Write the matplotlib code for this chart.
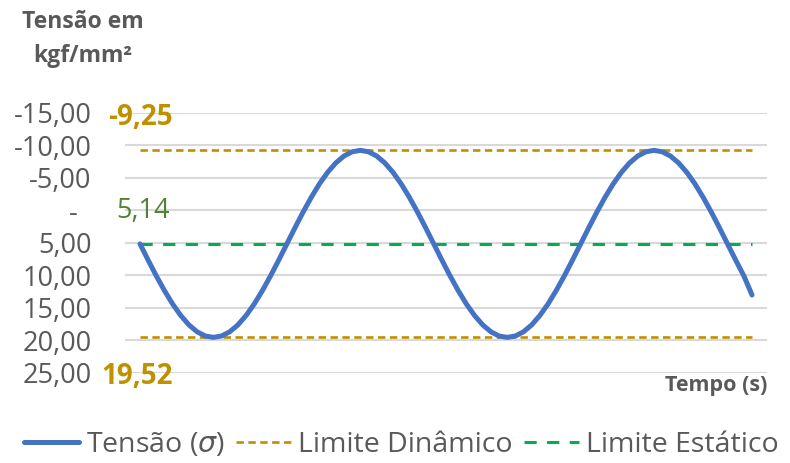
import numpy as np
import matplotlib.pyplot as plt

plt.rcParams['font.family'] = ['Open Sans', 'DejaVu Sans']

# stress over time (kgf/mm², positive values drawn downward)
tensao = [5.14, 7.64, 10.06, 12.33, 14.39, 16.16, 17.60, 18.66, 19.31, 19.52,
          19.31, 18.66, 17.60, 16.16, 14.39, 12.33, 10.06, 7.64, 5.14, 2.64,
          0.22, -2.05, -4.11, -5.88, -7.32, -8.38, -9.03, -9.25, -9.03, -8.38,
          -7.32, -5.88, -4.11, -2.05, 0.22, 2.64,
          5.14, 7.64, 10.06, 12.33, 14.39, 16.16, 17.60, 18.66, 19.31, 19.52,
          19.31, 18.66, 17.60, 16.16, 14.39, 12.33, 10.06, 7.64, 5.14, 2.64,
          0.22, -2.05, -4.11, -5.88, -7.32, -8.38, -9.03, -9.25, -9.03, -8.38,
          -7.32, -5.88, -4.11, -2.05, 0.22, 2.64,
          5.14, 7.64, 10.06, 13.0]
tempo = np.arange(len(tensao))

limite_din_sup = -9.25
limite_din_inf = 19.52
limite_est = 5.14

yticks = [-15, -10, -5, 0, 5, 10, 15, 20, 25]
ytick_labels = ["-15,00", "-10,00", "-5,00", "-  ", "5,00", "10,00",
                "15,00", "20,00", "25,00"]

cinza = "#595959"
azul = "#4472C4"
laranja = "#BF9000"
verde = "#00B050"

fig = plt.figure(figsize=(7.9, 4.63), dpi=100)
ax = fig.add_axes([0.1582, 0.1944, 0.8127, 0.5616])

ax.plot(tempo, tensao, color=azul, lw=3.6, solid_capstyle="round",
        solid_joinstyle="round", label=r"Tensão ($\sigma$)", zorder=3)
ax.plot(tempo, [limite_din_sup] * len(tempo), color=laranja, lw=1.9,
        dashes=(2.8, 1.7), label="Limite Dinâmico", zorder=2)
ax.plot(tempo, [limite_din_inf] * len(tempo), color=laranja, lw=1.9,
        dashes=(2.8, 1.7), zorder=2)
ax.plot(tempo, [limite_est] * len(tempo), color=verde, lw=2.2,
        dashes=(4, 3.4), label="Limite Estático", zorder=2)

# value labels next to the first point
ax.annotate("-9,25", xy=(tempo[0], limite_din_sup), xytext=(0, 24),
            textcoords="offset points", ha="center", va="center",
            color=laranja, fontsize=20, fontweight="bold")
ax.annotate("19,52", xy=(tempo[0], limite_din_inf), xytext=(-2, -28),
            textcoords="offset points", ha="center", va="center",
            color=laranja, fontsize=20, fontweight="bold")
ax.annotate("5,14", xy=(tempo[0], limite_est), xytext=(2, 24),
            textcoords="offset points", ha="center", va="center",
            color="#538135", fontsize=19.5)

pad_x = 15 / 612 * (tempo[-1] - tempo[0])
ax.set_xlim(tempo[0] - pad_x, tempo[-1] + pad_x)
ax.set_ylim(25, -15)
ax.set_yticks(yticks)
ax.set_yticklabels(ytick_labels)
ax.set_xticks([])
ax.tick_params(axis="y", length=0, pad=24, labelsize=19.5, labelcolor=cinza)
ax.grid(axis="y", color="#D9D9D9", lw=1.5)
ax.set_axisbelow(True)
for s in ax.spines.values():
    s.set_visible(False)

fig.text(83 / 790, 1 - 39 / 463, "Tensão em\nkgf/mm²", ha="center",
         va="center", multialignment="center", fontsize=16.5,
         fontweight="bold", color=cinza, linespacing=1.5)
fig.text(767 / 790, 1 - 385 / 463, "Tempo (s)", ha="right", va="center",
         fontsize=15.5, fontweight="bold", color=cinza)

leg = fig.legend(loc="center", bbox_to_anchor=(0.508, 1 - 445 / 463), ncol=3,
                 frameon=False, fontsize=20.5, handlelength=1.93,
                 handletextpad=0.25, columnspacing=0.4, borderpad=0)
for t in leg.get_texts():
    t.set_color(cinza)

fig.savefig("out.png", dpi=100)
